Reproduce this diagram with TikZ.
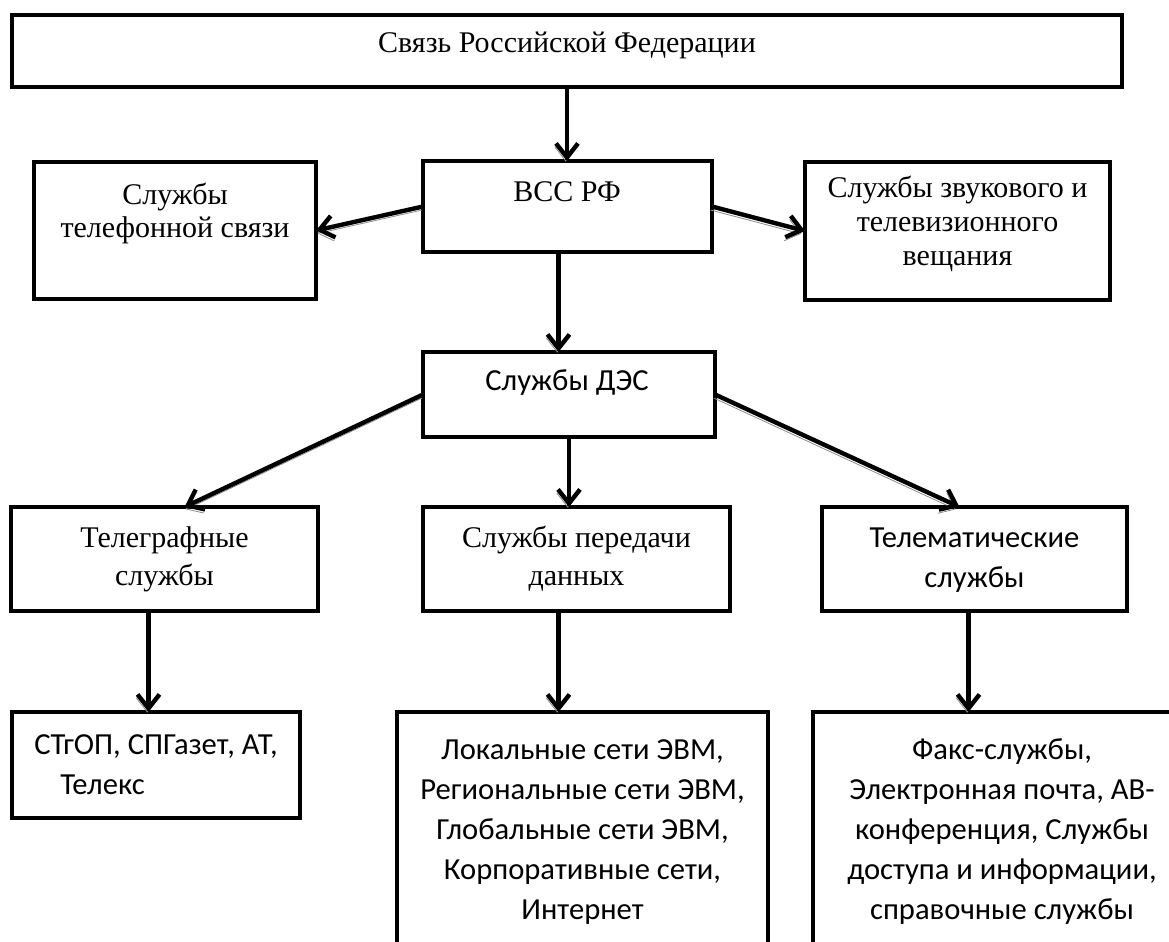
\documentclass[tikz,border=0pt]{standalone}
\usepackage{fontspec}
\setmainfont{Liberation Serif}
\newfontfamily\calibri{Carlito}
\usetikzlibrary{arrows.meta}
\definecolor{shadowgray}{RGB}{140,140,140}
\tikzset{
  chart/.style={x=0.5pt,y=-0.5pt},
  box/.style={draw,line width=2.4pt,inner sep=0pt,outer sep=0pt},
  tms/.style={inner sep=0pt,align=center,font=\fontsize{15}{16.5}\selectfont},
  tmslow/.style={tms,font=\fontsize{15}{19}\selectfont},
  cal/.style={inner sep=0pt,align=center,font=\calibri\fontsize{15.3}{20}\selectfont},
  arr/.style={line width=2.2pt,-{Straight Barb[length=7pt,width=11pt,line width=2.2pt]},
    preaction={draw=shadowgray,transform canvas={shift={(-0.6pt,-1.8pt)}}}}
}

\begin{document}
\begin{tikzpicture}[chart]
    \useasboundingbox (0,0) rectangle (1169,942);
    % boxes
    \node[box,minimum width=555pt,minimum height=36pt]     (top)     at (567,51) {};
    \node[box,minimum width=144.5pt,minimum height=45.5pt] (bcc)     at (567.5,206.5) {};
    \node[box,minimum width=141pt,minimum height=68.5pt]   (tel)     at (175,230.5) {};
    \node[box,minimum width=152.5pt,minimum height=69pt]   (zvuk)    at (957.5,231) {};
    \node[box,minimum width=146pt,minimum height=42.5pt]   (des)     at (569,394.5) {};
    \node[box,minimum width=153.5pt,minimum height=52pt]   (telegr)  at (164.5,559) {};
    \node[box,minimum width=153.5pt,minimum height=52pt]   (dp)      at (576.5,559) {};
    \node[box,minimum width=152.5pt,minimum height=52pt]   (telemat) at (974.5,559) {};
    \node[box,minimum width=144pt,minimum height=53pt]     (stgop)   at (156,765) {};
    \node[box,minimum width=185.5pt,minimum height=125pt]  (evm)     at (582.5,837) {};
    \node[box,minimum width=191pt,minimum height=125pt]    (fax)     at (1004,837) {};
    % texts
    \node[tms] (top-t)     at (567,45)    {Связь Российской Федерации};
    \node[tms] (bcc-t)     at (567,192)   {ВСС РФ};
    \node[tms] (tel-t)     at (175,213)   {Службы\\телефонной связи};
    \node[tms,font=\fontsize{15}{17}\selectfont] (zvuk-t) at (957.5,224) {Службы звукового и\\телевизионного\\вещания};
    \node[cal] (des-t)     at (567,383)   {Службы ДЭС};
    \node[tmslow] (telegr-t) at (164.5,559) {Телеграфные\\службы};
    \node[tmslow] (dp-t)     at (576.5,559) {Службы передачи\\данных};
    \node[cal] (telemat-t) at (974.5,560) {Телематические\\службы};
    \node[cal,align=left] (stgop-t) at (156,765) {СТгОП, СПГазет, АТ,\\\hspace*{13pt}Телекс};
    \node[cal] (evm-t) at (582.5,832) {Локальные сети ЭВМ,\\Региональные сети ЭВМ,\\Глобальные сети ЭВМ,\\Корпоративные сети,\\Интернет};
    \node[cal] (fax-t) at (1002,832) {Факс-службы,\\Электронная почта, АВ-\\конференция, Службы\\доступа и информации,\\справочные службы};
    % arrows
    \draw[arr] (top.south) -- (top.south |- bcc.north);
    \draw[arr] (bcc.west) -- (tel.east);
    \draw[arr] (bcc.east) -- (zvuk.west);
    \draw[arr] ([xshift=-4.5pt]bcc.south) -- ([xshift=-4.5pt]bcc.south |- des.north);
    \draw[arr] (des.west) -- ([xshift=10pt]telegr.north);
    \draw[arr] (des.south) -- (des.south |- dp.north);
    \draw[arr] (des.east) -- ([xshift=-7.5pt]telemat.north);
    \draw[arr] ([xshift=-8pt]telegr.south) -- ([xshift=-8pt]telegr.south |- stgop.north);
    \draw[arr] ([xshift=-9pt]dp.south) -- ([xshift=-9pt]dp.south |- evm.north);
    \draw[arr] ([xshift=-3pt]telemat.south) -- ([xshift=-3pt]telemat.south |- fax.north);
\end{tikzpicture}
\end{document}
